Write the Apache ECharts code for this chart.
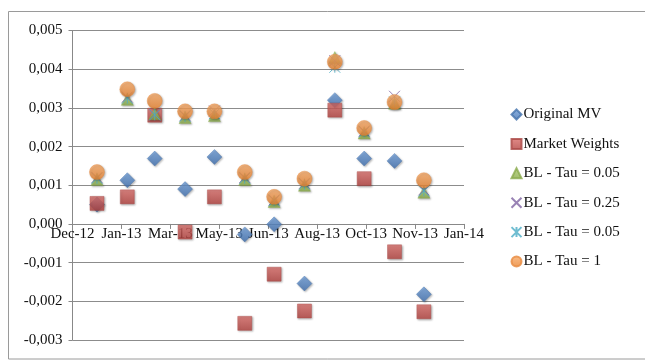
<!DOCTYPE html>
<html>
<head>
<meta charset="utf-8">
<script src="https://cdn.jsdelivr.net/npm/echarts@6/dist/echarts.min.js"></script>
<style>
html,body{margin:0;padding:0;background:#fff;}
#chart{width:645px;height:362px;}
</style>
</head>
<body>
<div id="chart"></div>
<script>
// Dates of observations (monthly)
const dates = ['2013-01-01','2013-02-01','2013-03-01','2013-04-01','2013-05-01','2013-06-01',
               '2013-07-01','2013-08-01','2013-09-01','2013-10-01','2013-11-01','2013-12-01'];
const originalMV   = [0.00050, 0.00113, 0.00169, 0.00090, 0.00173, -0.00027, -0.00001, -0.00154, 0.00320, 0.00169, 0.00163, -0.00182];
const marketWeights= [0.00053, 0.00070, 0.00281, -0.00021, 0.00070, -0.00257, -0.00130, -0.00225, 0.00294, 0.00117, -0.00072, -0.00227];
const blTau005     = [0.00115, 0.00322, 0.00285, 0.00275, 0.00280, 0.00115, 0.00058, 0.00100, 0.00430, 0.00235, 0.00312, 0.00082];
const blTau025     = [0.00120, 0.00328, 0.00282, 0.00280, 0.00292, 0.00120, 0.00062, 0.00105, 0.00422, 0.00240, 0.00330, 0.00088];
const blTau005b    = [0.00118, 0.00325, 0.00282, 0.00278, 0.00285, 0.00118, 0.00060, 0.00103, 0.00405, 0.00238, 0.00315, 0.00085];
const blTau1       = [0.00134, 0.00348, 0.00318, 0.00291, 0.00291, 0.00134, 0.00070, 0.00117, 0.00419, 0.00248, 0.00315, 0.00113];
const seriesNames  = ['Original MV','Market Weights','BL - Tau = 0.05','BL - Tau = 0.25','BL - Tau = 0.05','BL - Tau = 1'];
// Axis settings (Excel serial day numbers)
const xMin = 41250, xMax = 41650, xStep = 50;
const yMin = -0.003, yMax = 0.005, yStep = 0.001;

const MONTHS = ['Jan','Feb','Mar','Apr','May','Jun','Jul','Aug','Sep','Oct','Nov','Dec'];
const EPOCH = Date.UTC(1899,11,30);
function toSerial(s){ return Math.round((Date.parse(s+'T00:00:00Z') - EPOCH)/86400000); }
function serialLabel(v){
  const d = new Date(EPOCH + v*86400000);
  return MONTHS[d.getUTCMonth()] + '-' + String(d.getUTCFullYear()%100).padStart(2,'0');
}
function pairs(arr){ return arr.map((v,i)=>[toSerial(dates[i]), v]); }
// unique internal ids (two series share a display name)
const ids = seriesNames.map((n,i)=>'s'+i);
const nameOf = {}; ids.forEach((id,i)=>nameOf[id]=seriesNames[i]);

const FONT = 'Liberation Serif';
const colors = ['#4F81BD','#C0504D','#9BBB59','#8064A2','#4BACC6','#F79646'];
const xPath = 'path://M0,0L10,10M10,0L0,10';
const starPath = 'path://M0,0L10,10M10,0L0,10M5,0L5,10';
const shadow = {shadowBlur:2, shadowColor:'rgba(0,0,0,0.35)', shadowOffsetX:1, shadowOffsetY:1};

function grad(c1,c2){
  return new echarts.graphic.LinearGradient(0,0,0,1,[{offset:0,color:c1},{offset:1,color:c2}]);
}

const series = [
  {data:pairs(originalMV), symbol:'diamond', symbolSize:[15,15],
   itemStyle:Object.assign({color:grad('#6F9FDA','#3F6FAF'), borderColor:'#4573AD', borderWidth:0.5}, shadow)},
  {data:pairs(marketWeights), symbol:'rect', symbolSize:14,
   itemStyle:Object.assign({color:grad('#DB6E6A','#B2403D'), borderColor:'#A94643', borderWidth:0.5}, shadow)},
  {data:pairs(blTau005), symbol:'triangle', symbolSize:12,
   itemStyle:Object.assign({color:grad('#AFCD72','#86A844'), borderColor:'#8AAA4C', borderWidth:0.5}, shadow)},
  {data:pairs(blTau025), symbol:xPath, symbolSize:11,
   itemStyle:{color:'none', borderColor:'#8064A2', borderWidth:1}},
  {data:pairs(blTau005b), symbol:starPath, symbolSize:11,
   itemStyle:{color:'none', borderColor:'#4BACC6', borderWidth:1}},
  {data:pairs(blTau1), symbol:'circle', symbolSize:15,
   itemStyle:Object.assign({color:grad('#F9AC6A','#E9822E'), borderColor:'#E7893F', borderWidth:0.5}, shadow)}
].map((s,i)=>Object.assign({type:'scatter', animation:false, name:ids[i]}, s));

const gridTop = 30.5, gridBottom = 22, H = 362;
const plotH = H - gridTop - gridBottom;
const zeroOffset = -(plotH * (0 - yMin) / (yMax - yMin));

const chart = echarts.init(document.getElementById('chart'), null, {renderer:'canvas'});
chart.setOption({
  backgroundColor:'#fff',
  color: colors,
  textStyle:{fontFamily:FONT},
  graphic:[{type:'rect', shape:{x:8.5,y:11.5,width:640,height:347.5},
            style:{fill:'none', stroke:'#9a9a9a', lineWidth:1}, silent:true, z:-1}],
  grid:{left:72.5, right:181, top:gridTop, bottom:gridBottom},
  legend:{
    orient:'vertical', left:504, top:102, itemGap:14.4, itemWidth:10, itemHeight:10,
    data: ids,
    formatter: id => nameOf[id],
    textStyle:{fontFamily:FONT, fontSize:15, color:'#111', padding:[0,0,0,-3]},
    selectedMode:false
  },
  xAxis:{
    type:'value', min:xMin, max:xMax, interval:xStep, position:'bottom', offset:zeroOffset,
    axisLine:{onZero:false, lineStyle:{color:'#888', width:1}},
    axisTick:{show:true, inside:false, length:5, lineStyle:{color:'#888'}},
    axisLabel:{formatter:serialLabel, fontFamily:FONT, fontSize:15, color:'#111', margin:3, showMinLabel:true, showMaxLabel:true, hideOverlap:false},
    splitLine:{show:false}
  },
  yAxis:{
    type:'value', min:yMin, max:yMax, interval:yStep,
    axisLine:{show:true, lineStyle:{color:'#888', width:1}},
    axisTick:{show:true, length:4, lineStyle:{color:'#888'}},
    axisLabel:{formatter:v=>(Math.round(v*1000)/1000).toFixed(3).replace('.',','), fontFamily:FONT, fontSize:15, color:'#111', margin:10},
    splitLine:{show:true, lineStyle:{color:'#8c8c8c', width:1}}
  },
  series: series
});
</script>
</body>
</html>
